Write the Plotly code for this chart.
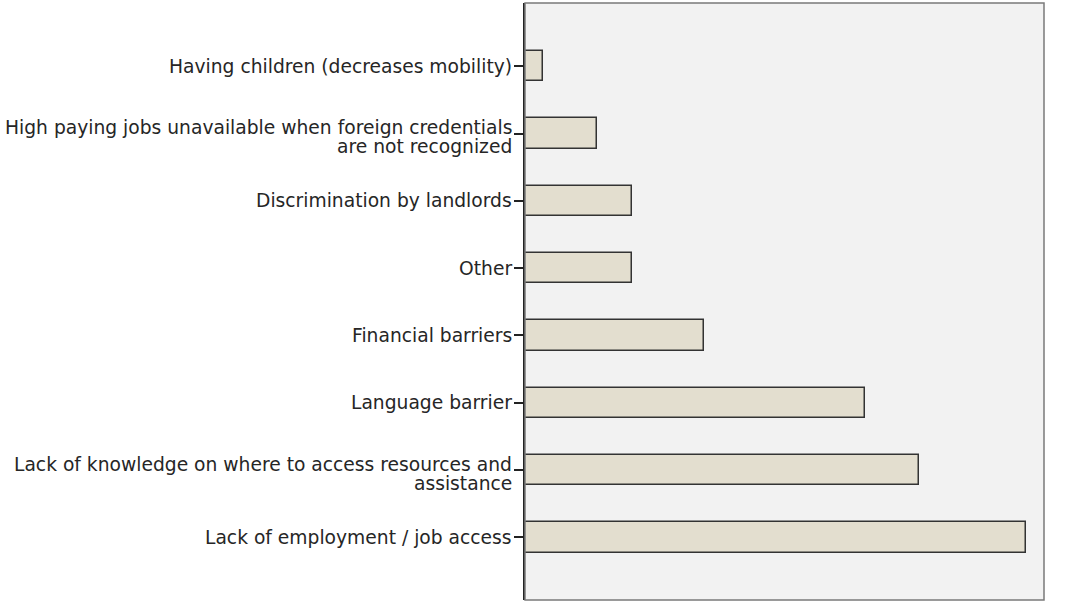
import plotly.graph_objects as go

categories = [
    "Having children (decreases mobility)",
    "High paying jobs unavailable when foreign credentials\nare not recognized",
    "Discrimination by landlords",
    "Other",
    "Financial barriers",
    "Language barrier",
    "Lack of knowledge on where to access resources and\nassistance",
    "Lack of employment / job access",
]
counts = [1, 4, 6, 6, 10, 19, 22, 28]

fig = go.Figure(go.Bar(
    x=counts, y=categories, orientation="h", width=0.45,
    marker=dict(color="#E3DECF", line=dict(color="#333333", width=1.5)),
))

annotations = []
for cat in categories:
    lines = cat.split("\n")
    if len(lines) == 1:
        shifts = [0]
    else:
        shifts = [6, -13]
    for line, s in zip(lines, shifts):
        annotations.append(dict(
            text=line, xref="paper", x=0, yref="y", y=cat,
            xanchor="right", yanchor="middle", xshift=-11, yshift=s,
            showarrow=False, font=dict(family="DejaVu Sans", size=18.7, color="#262626"),
        ))

fig.update_layout(
    width=1073, height=603,
    margin=dict(l=525, r=29, t=3, b=3),
    paper_bgcolor="white", plot_bgcolor="#F2F2F2",
    font=dict(family="DejaVu Sans", size=18.7, color="#262626"),
    showlegend=False, bargap=0,
    annotations=annotations,
    shapes=[dict(type="rect", xref="paper", yref="paper", x0=0, x1=1, y0=0, y1=1,
                 line=dict(color="#7a7a7a", width=1.5), layer="above")],
)
fig.update_xaxes(range=[0, 29], showticklabels=False, showgrid=False, zeroline=False, ticks="")
fig.update_yaxes(type="category", range=[7.93, -0.94], showgrid=False, zeroline=False,
                 showticklabels=False,
                 showline=True, linecolor="#222222", linewidth=2,
                 ticks="outside", ticklen=9, tickcolor="#222222", tickwidth=1.5)

fig.write_html("out.html", post_script="document.body.style.margin='0';",
               config={"displayModeBar": False})
